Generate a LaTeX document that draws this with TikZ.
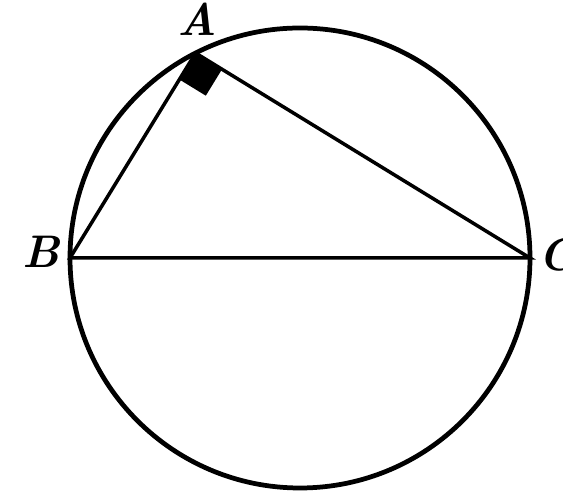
\documentclass[tikz,border=0pt]{standalone}
\usetikzlibrary{calc}

\begin{document}
\begin{tikzpicture}[line width=2pt, lbl/.style={font=\fontsize{26}{30}\selectfont\bfseries\itshape, inner sep=0pt}]
    \useasboundingbox (0,0) rectangle (11.26,9.94);
    \coordinate (O) at (6.0,4.78);
    \coordinate (B) at ([shift={(180:4.6)}]O);
    \coordinate (C) at ([shift={(0:4.6)}]O);
    \coordinate (A) at ([shift={(117:4.6)}]O);
    \draw[line width=2.7pt] (O) circle [radius=4.6];
    \draw (B) -- (C) -- (A) -- cycle;
    % right angle at A
    \coordinate (A1) at ($(A)!0.62cm!(B)$);
    \coordinate (A2) at ($(A)!0.62cm!(C)$);
    \fill (A) -- (A1) -- ($(A1)+(A2)-(A)$) -- (A2) -- cycle;
    \node[lbl, anchor=north] (labA) at (3.94,9.92) {A};
    \node[lbl] (labB) at (0.82,4.9) {B};
    \node[lbl, anchor=west] (labC) at (10.74,4.85) {C};
\end{tikzpicture}
\end{document}
